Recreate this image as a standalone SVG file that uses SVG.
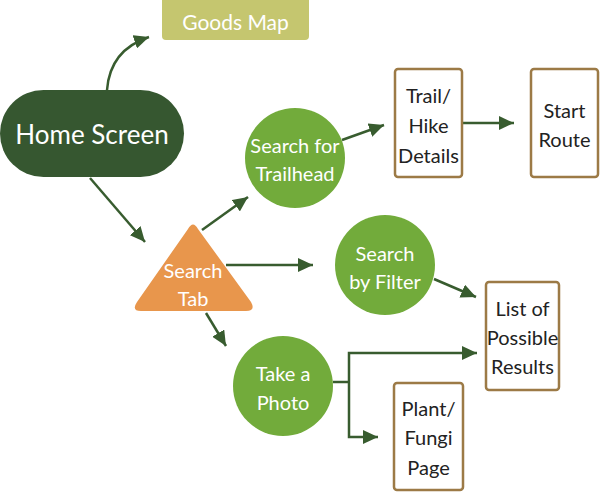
<svg xmlns="http://www.w3.org/2000/svg" width="600" height="492" viewBox="0 0 600 492">
<defs>
<marker id="ah" markerUnits="userSpaceOnUse" markerWidth="16" markerHeight="14" refX="15" refY="7" orient="auto">
<path d="M0,0 L15,7 L0,14 z" fill="#385c2f"/>
</marker>
<style>
.conn{fill:none;stroke:#385c2f;stroke-width:2.5;marker-end:url(#ah)}
.line{fill:none;stroke:#385c2f;stroke-width:2.5}
.wt{fill:#ffffff;font-family:Lato,"Liberation Sans",sans-serif;text-anchor:middle;dominant-baseline:central}
.bt{fill:#222222;font-family:Lato,"Liberation Sans",sans-serif;text-anchor:middle;dominant-baseline:central;font-size:20px}
.box{fill:#ffffff;stroke:#9c7a46;stroke-width:2.5}
.circ{fill:#72ab3b}
</style>
</defs>
<g id="connectors">
<path class="conn" d="M107,90 Q110,50 149,37"/>
<path class="conn" d="M90,178 L145,242"/>
<path class="conn" d="M202,230 L248,197"/>
<path class="conn" d="M226,265 L313,265"/>
<path class="conn" d="M206,313 L226,346"/>
<path class="conn" d="M342,140 L384,125"/>
<path class="conn" d="M463,123 L514,123"/>
<path class="conn" d="M434,279 L476,297"/>
<path class="line" d="M333,382 L349,382"/>
<path class="conn" d="M349,382 L349,353 L477,353"/>
<path class="conn" d="M349,382 L349,437 L378,437"/>
</g>
<g id="goods-map">
<rect x="162" y="-4" width="147" height="44" rx="4" fill="#c5c66f"/>
<text class="wt" x="235.5" y="21" font-size="21">Goods Map</text>
</g>
<g id="home-screen">
<rect x="0" y="90" width="184" height="87" rx="43.5" fill="#365730"/>
<text class="wt" x="92" y="134" font-size="26">Home Screen</text>
</g>
<g id="search-tab">
<path d="M188,229 Q193,220 198,229 L251,302 Q256,311 246,311 L141,311 Q131,311 137,302 Z" fill="#e8964c"/>
<text class="wt" x="193" y="270" font-size="20">Search</text>
<text class="wt" x="193" y="298" font-size="20">Tab</text>
</g>
<g id="search-trailhead">
<circle class="circ" cx="295" cy="158" r="50"/>
<text class="wt" x="295" y="145" font-size="20">Search for</text>
<text class="wt" x="295" y="173" font-size="20">Trailhead</text>
</g>
<g id="search-filter">
<circle class="circ" cx="385" cy="265" r="50"/>
<text class="wt" x="385" y="253" font-size="20">Search</text>
<text class="wt" x="385" y="281" font-size="20">by Filter</text>
</g>
<g id="take-photo">
<circle class="circ" cx="283" cy="386" r="50"/>
<text class="wt" x="283" y="373" font-size="20">Take a</text>
<text class="wt" x="283" y="402" font-size="20">Photo</text>
</g>
<g id="trail-details">
<rect class="box" x="395" y="69" width="67" height="108" rx="3"/>
<text class="bt" x="428.5" y="95">Trail/</text>
<text class="bt" x="428.5" y="125">Hike</text>
<text class="bt" x="428.5" y="155">Details</text>
</g>
<g id="start-route">
<rect class="box" x="531" y="69" width="67" height="108" rx="3"/>
<text class="bt" x="564.5" y="110">Start</text>
<text class="bt" x="564.5" y="139">Route</text>
</g>
<g id="possible-results">
<rect class="box" x="486" y="282" width="73" height="108" rx="3"/>
<text class="bt" x="522.5" y="308">List of</text>
<text class="bt" x="522.5" y="337">Possible</text>
<text class="bt" x="522.5" y="366">Results</text>
</g>
<g id="plant-page">
<rect class="box" x="394" y="383" width="69" height="107" rx="3"/>
<text class="bt" x="428.5" y="408">Plant/</text>
<text class="bt" x="428.5" y="437">Fungi</text>
<text class="bt" x="428.5" y="467">Page</text>
</g>
</svg>
